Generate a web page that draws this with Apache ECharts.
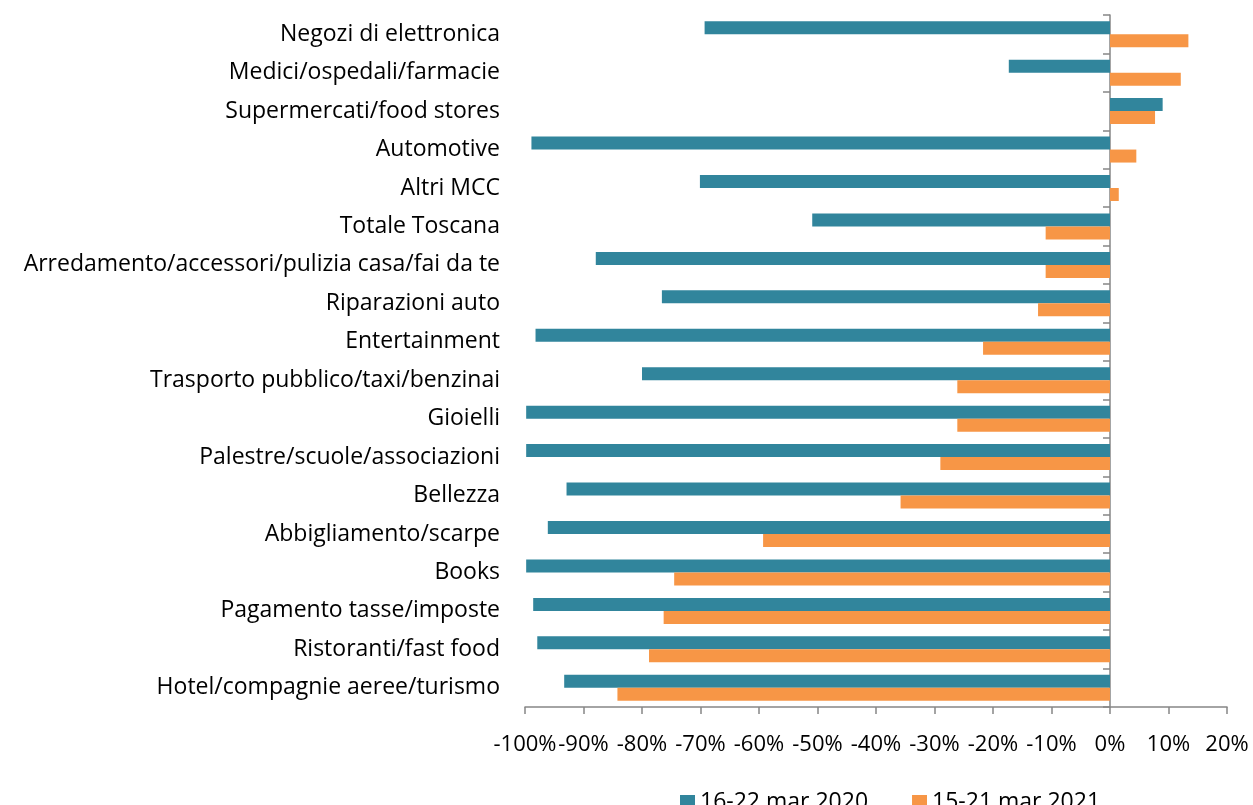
<!DOCTYPE html>
<html>
<head>
<meta charset="utf-8">
<script src="https://cdn.jsdelivr.net/npm/echarts@6/dist/echarts.min.js"></script>
<style>
  html, body { margin: 0; padding: 0; background: #fff; }
  #chart { width: 1253px; height: 805px; }
</style>
</head>
<body>
<div id="chart"></div>
<script>
// categorie (dall'alto verso il basso)
const categories = [
  'Negozi di elettronica',
  'Medici/ospedali/farmacie',
  'Supermercati/food stores',
  'Automotive',
  'Altri MCC',
  'Totale Toscana',
  'Arredamento/accessori/pulizia casa/fai da te',
  'Riparazioni auto',
  'Entertainment',
  'Trasporto pubblico/taxi/benzinai',
  'Gioielli',
  'Palestre/scuole/associazioni',
  'Bellezza',
  'Abbigliamento/scarpe',
  'Books',
  'Pagamento tasse/imposte',
  'Ristoranti/fast food',
  'Hotel/compagnie aeree/turismo'
];
const seriesNames = ['16-22 mar 2020', '15-21 mar 2021'];
// variazioni %
const values2020 = [-69.3, -17.3, 9.0, -98.9, -70.1, -50.9, -87.9, -76.6, -98.2, -80.0, -99.8, -99.8, -92.9, -96.1, -99.8, -98.6, -97.9, -93.3];
const values2021 = [13.4, 12.1, 7.7, 4.5, 1.5, -11.0, -11.0, -12.3, -21.7, -26.1, -26.1, -29.0, -35.8, -59.3, -74.5, -76.3, -78.8, -84.2];
const colors = ['#31859C', '#F79646'];

const myChart = echarts.init(document.getElementById('chart'));
const font = '"Open Sans", sans-serif';

const option = {
  animation: false,
  textStyle: { fontFamily: font },
  grid: { left: 525, right: 26, top: 15, bottom: 98 },
  legend: {
    data: seriesNames,
    left: 675,
    top: 786,
    icon: 'rect',
    itemWidth: 15,
    itemHeight: 15,
    itemGap: 44,
    textStyle: { fontSize: 23, color: '#000', fontFamily: font }
  },
  xAxis: {
    type: 'value',
    min: -100,
    max: 20,
    interval: 10,
    splitLine: { show: false },
    axisLine: { show: true, onZero: false, lineStyle: { color: '#868686', width: 1.5 } },
    axisTick: { show: true, length: 7, lineStyle: { color: '#868686', width: 1.5 } },
    axisLabel: {
      formatter: '{value}%',
      fontSize: 22,
      color: '#000',
      margin: 27,
      fontFamily: font
    }
  },
  yAxis: [
    {
      // etichette a sinistra
      type: 'category',
      data: categories,
      inverse: true,
      position: 'left',
      axisLine: { show: false, onZero: false },
      axisTick: { show: false },
      axisLabel: { fontSize: 23, color: '#000', margin: 25, fontFamily: font }
    },
    {
      // linea dell'asse sullo zero
      type: 'category',
      data: categories,
      inverse: true,
      position: 'left',
      axisLine: { show: true, onZero: true, lineStyle: { color: '#868686', width: 1.5 } },
      axisTick: { show: true, length: 7, lineStyle: { color: '#868686', width: 1.5 } },
      axisLabel: { show: false }
    }
  ],
  series: [
    {
      name: seriesNames[0],
      type: 'bar',
      data: values2020,
      barWidth: 13,
      barGap: '0%',
      itemStyle: { color: colors[0] }
    },
    {
      name: seriesNames[1],
      type: 'bar',
      data: values2021,
      barWidth: 13,
      barGap: '0%',
      itemStyle: { color: colors[1] }
    }
  ]
};

myChart.setOption(option);
</script>
</body>
</html>
